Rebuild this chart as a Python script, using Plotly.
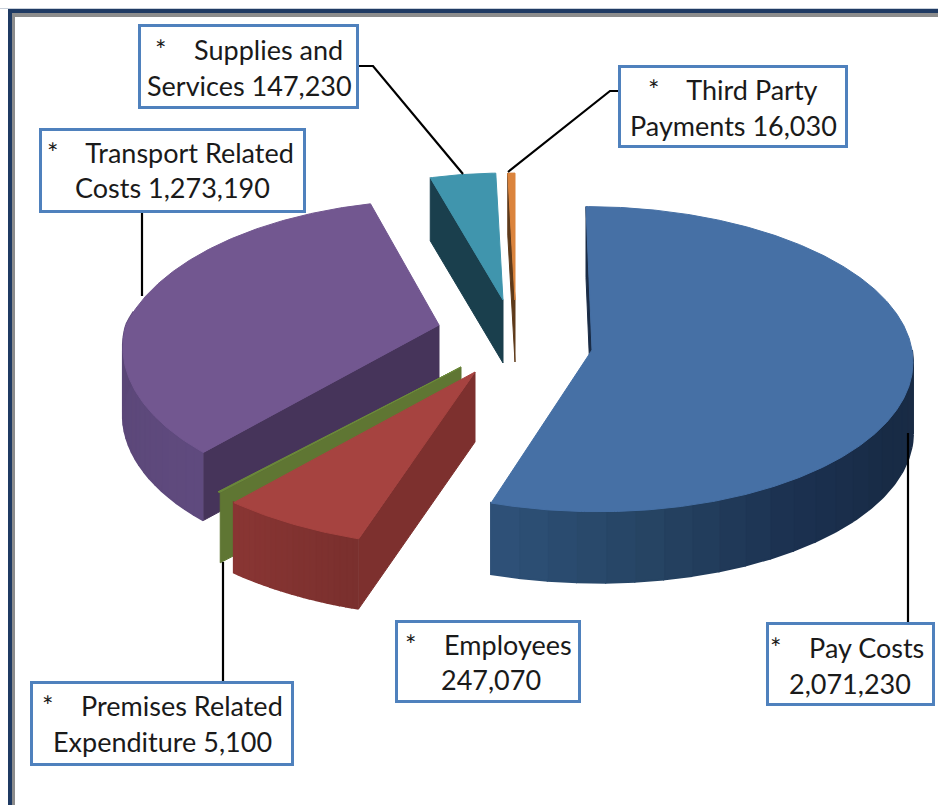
import numpy as np
import plotly.graph_objects as go

# ---- data ----
categories = ["Pay Costs", "Employees", "Premises Related Expenditure",
              "Transport Related Costs", "Supplies and Services", "Third Party Payments"]
values = [2071230, 247070, 5100, 1273190, 147230, 16030]
label_first = ["Pay Costs", "Employees", "Premises Related", "Transport Related", "Supplies and", "Third Party"]
label_second = ["", "", "Expenditure ", "Costs ", "Services ", "Payments "]

# ---- style: projected geometry of each exploded slice ----
FONT = "Lato"
geom = {
    "Pay Costs": dict(ax=592, ay=350, R=320, k=.475, pb=.06, pf=.06, sh=-6, d=71, top="#4670a5", cut="#1a2c46",
                      wall=["#2f5279", "#264463", "#1c3150", "#182b45", "#1a2c46"]),
    "Employees": dict(ax=475, ay=372, R=355, k=.495, pb=0, pf=0, sh=5, d=70, top="#a64340", cut="#7d302e",
                      wall=["#8a3634", "#7a302e"]),
    "Premises Related Expenditure": dict(ax=461, ay=367, R=360, k=.47, pb=0, pf=0, sh=0, d=70, top="#6c8a3a",
                                         cut="#5f7633", wall=None),
    "Transport Related Costs": dict(ax=439, ay=325, R=313, k=.495, pb=.24, pf=.14, sh=0, d=68, top="#725790",
                                    cut="#46345a", wall=["#5a4676", "#604b7f"]),
    "Supplies and Services": dict(ax=503, ay=300, R=270, k=.47, pb=0, pf=0, sh=0, d=63, top="#4095ad",
                                  cut="#1a3f4d", wall=None),
    "Third Party Payments": dict(ax=515, ay=300, R=270, k=.47, pb=0, pf=0, sh=0, d=62, top="#db843d",
                                 cut="#5e3a1a", wall=None),
}
boxes = {  # x0, x1, y0, y1 outer edges, x centre of each text line, y of each text line
    "Pay Costs": (766, 935, 622, 706, 847, 850, 647, 683),
    "Employees": (395, 581, 620, 703, 488, 491, 644, 679),
    "Premises Related Expenditure": (30, 294, 681, 766, 162, 162, 705, 741),
    "Transport Related Costs": (39, 306, 128, 213, 170, 172, 152, 187),
    "Supplies and Services": (138, 359, 24, 109, 249, 249, 49, 85),
    "Third Party Payments": (618, 848, 65, 148, 733, 733, 89, 125),
}
leaders = [
    ([359, 373, 463], [66, 66, 174]),
    ([619, 610, 508], [91, 91, 172]),
    ([142, 142], [212, 296]),
    ([908, 908], [433, 622]),
    ([223, 223], [562, 681]),
]
draw_order = ["Pay Costs", "Supplies and Services", "Third Party Payments",
              "Transport Related Costs", "Premises Related Expenditure", "Employees"]


def project(g, deg):
    t = np.radians(np.asarray(deg, float))
    X, Y = np.sin(t), np.cos(t)
    p = np.where(Y > 0, g["pb"], g["pf"])
    s = 1 / (1 + p * Y)
    return g["ax"] + X * g["R"] * s + g["sh"] * Y, g["ay"] - Y * g["k"] * g["R"] * s


def hex2rgb(h):
    return np.array([int(h[i:i + 2], 16) for i in (1, 3, 5)], float)


def ramp(stops, f):
    pos = f * (len(stops) - 1)
    i = min(int(pos), len(stops) - 2)
    c = hex2rgb(stops[i]) * (1 - (pos - i)) + hex2rgb(stops[i + 1]) * (pos - i)
    return "rgb(%d,%d,%d)" % tuple(c)


fig = go.Figure()


def poly(xs, ys, color, name, width=1):
    fig.add_trace(go.Scatter(x=list(xs), y=list(ys), mode="lines", fill="toself", fillcolor=color,
                             line=dict(color=color, width=width), showlegend=False, name=name, hoverinfo="name"))


total = sum(values)
spans = {}
a = 0.0
for c, v in zip(categories, values):
    spans[c] = (a, a + 360 * v / total)
    a += 360 * v / total

for name in draw_order:
    g = geom[name]
    a0, a1 = spans[name]
    ax, ay, d = g["ax"], g["ay"], g["d"]
    # straight side that faces the viewer
    cx, cy = project(g, [a0])
    poly([ax, float(cx[0]), float(cx[0]), ax, ax], [ay, float(cy[0]), float(cy[0]) + d, ay + d, ay], g["cut"], name)
    # curved outer wall, in bands so that the shade can change along it
    if g["wall"]:
        w0, w1 = max(a0, 90), min(a1, 275)
        if w1 > w0:
            n = 22
            edges = np.linspace(w0, w1, n + 1)
            for i in range(n):
                seg = np.linspace(edges[i], edges[i + 1], 6)
                px, py = project(g, seg)
                col = ramp(g["wall"], 1 - (i + .5) / n)
                poly(list(px) + list(px[::-1]), list(py) + list((py + d)[::-1]), col, name, width=2)
    # top face
    arc = np.linspace(a0, a1, max(int((a1 - a0) * 2), 4))
    px, py = project(g, arc)
    poly([ax] + list(px) + [ax], [ay] + list(py) + [ay], g["top"], name)

shapes = []
# window frame
shapes.append(dict(type="rect", x0=0, x1=938, y0=8, y1=9, fillcolor="#c8d0da", line_width=0, layer="below"))
shapes.append(dict(type="rect", x0=8, x1=938, y0=9, y1=13, fillcolor="#1f3a63", line_width=0, layer="below"))
shapes.append(dict(type="rect", x0=12, x1=938, y0=13, y1=17, fillcolor="#8c8c8c", line_width=0, layer="below"))
shapes.append(dict(type="rect", x0=8, x1=12, y0=9, y1=805, fillcolor="#1f3a63", line_width=0, layer="below"))
shapes.append(dict(type="rect", x0=12, x1=15, y0=13, y1=805, fillcolor="#8c8c8c", line_width=0, layer="below"))
for lx, ly in leaders:
    path = "M" + " L".join(f"{x},{y}" for x, y in zip(lx, ly))
    shapes.append(dict(type="path", path=path, line=dict(color="#000000", width=2.2), layer="above"))

annotations = []
for i, name in enumerate(categories):
    x0, x1, y0, y1, tx1, tx2, ty1, ty2 = boxes[name]
    shapes.append(dict(type="rect", x0=x0 + 1.5, x1=x1 - 1.5, y0=y0 + 1.5, y1=y1 - 1.5, fillcolor="white",
                       line=dict(color="#4f81bd", width=3), layer="above"))
    first = "*\u00a0\u00a0\u00a0\u00a0" + label_first[i]
    second = label_second[i] + f"{values[i]:,}"
    for txt, tx, ty in ((first, tx1, ty1), (second, tx2, ty2)):
        annotations.append(dict(x=tx, y=ty, text=txt, xref="x", yref="y", showarrow=False, xanchor="center",
                                yanchor="middle", font=dict(family=FONT, size=27, color="#1a1a1a")))

fig.update_layout(width=938, height=805, margin=dict(l=0, r=0, t=0, b=0), paper_bgcolor="white",
                  plot_bgcolor="white", shapes=shapes, annotations=annotations, showlegend=False,
                  xaxis=dict(range=[0, 938], visible=False, fixedrange=True),
                  yaxis=dict(range=[805, 0], visible=False, fixedrange=True))
fig.write_html("out.html", config={"displayModeBar": False},
               post_script="document.body.style.margin='0';document.documentElement.style.overflow='hidden';")
